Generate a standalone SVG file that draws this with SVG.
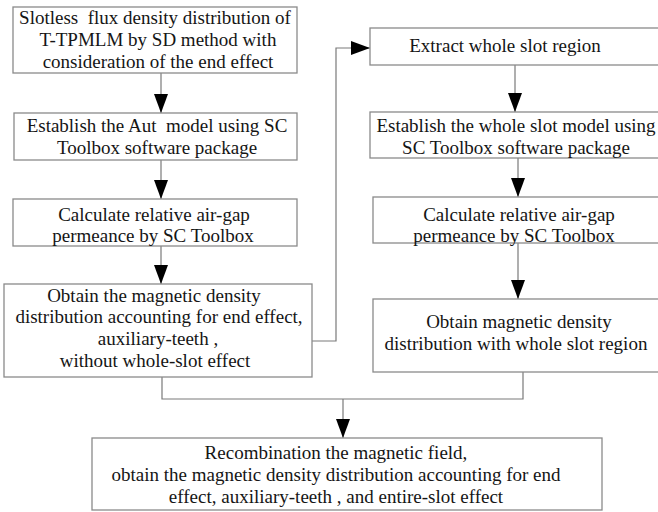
<svg xmlns="http://www.w3.org/2000/svg" width="658" height="512" viewBox="0 0 658 512">
<defs>
<style>
.box{fill:#fff;stroke:#8a8a8a;stroke-width:1.3}
.ln{fill:none;stroke:#7a7a7a;stroke-width:1.2}
text{font-family:"Liberation Serif","Times New Roman",serif;font-size:19px;fill:#151515;text-anchor:middle;white-space:pre}
</style>
<marker id="ah" markerUnits="userSpaceOnUse" markerWidth="20" markerHeight="15" refX="19" refY="7" orient="auto">
<path d="M0,0 L19,7 L0,14 z" fill="#000"/>
</marker>
</defs>
<rect width="658" height="512" fill="#fff"/>
<g id="connectors">
<path class="ln" d="M161,73 V113" marker-end="url(#ah)"/>
<path class="ln" d="M161,160 V199" marker-end="url(#ah)"/>
<path class="ln" d="M161,246 V284" marker-end="url(#ah)"/>
<path class="ln" d="M312,341 H336 V48 H370" marker-end="url(#ah)"/>
<path class="ln" d="M515,65 V112" marker-end="url(#ah)"/>
<path class="ln" d="M518,158 V197" marker-end="url(#ah)"/>
<path class="ln" d="M518,243 V299" marker-end="url(#ah)"/>
<path class="ln" d="M162,377 V399 H523 V372"/>
<path class="ln" d="M343,399 V438" marker-end="url(#ah)"/>
</g>
<g id="n1">
<rect class="box" x="13" y="7" width="284" height="66"/>
<text x="155" y="24" xml:space="preserve">Slotless  flux density distribution of</text>
<text x="158" y="46">T-TPMLM by SD method with</text>
<text x="158" y="68">consideration of the end effect</text>
</g>
<g id="n2">
<rect class="box" x="14" y="113" width="283" height="47"/>
<text x="157" y="132" xml:space="preserve">Establish the Aut  model using SC</text>
<text x="157" y="154">Toolbox software package</text>
</g>
<g id="n3">
<rect class="box" x="13" y="199" width="284" height="47"/>
<text x="154" y="221">Calculate relative air-gap</text>
<text x="153" y="242">permeance by SC Toolbox</text>
</g>
<g id="n4">
<rect class="box" x="4" y="284" width="308" height="93"/>
<text x="154" y="302">Obtain the magnetic density</text>
<text x="159" y="323">distribution accounting for end effect,</text>
<text x="158" y="345">auxiliary-teeth ,</text>
<text x="155" y="367">without whole-slot effect</text>
</g>
<g id="n5">
<rect class="box" x="370" y="28" width="300" height="37"/>
<text x="505" y="52">Extract whole slot region</text>
</g>
<g id="n6">
<rect class="box" x="370" y="112" width="300" height="46"/>
<text x="516" y="132">Establish the whole slot model using</text>
<text x="516" y="154">SC Toolbox software package</text>
</g>
<g id="n7">
<rect class="box" x="373" y="197" width="297" height="46"/>
<text x="519" y="221">Calculate relative air-gap</text>
<text x="514" y="242">permeance by SC Toolbox</text>
</g>
<g id="n8">
<rect class="box" x="373" y="299" width="297" height="73"/>
<text x="519" y="328">Obtain magnetic density</text>
<text x="516" y="350">distribution with whole slot region</text>
</g>
<g id="n9">
<rect class="box" x="92" y="438" width="510" height="72"/>
<text x="336" y="459">Recombination the magnetic field,</text>
<text x="336" y="481">obtain the magnetic density distribution accounting for end</text>
<text x="336" y="503">effect, auxiliary-teeth , and entire-slot effect</text>
</g>
</svg>
